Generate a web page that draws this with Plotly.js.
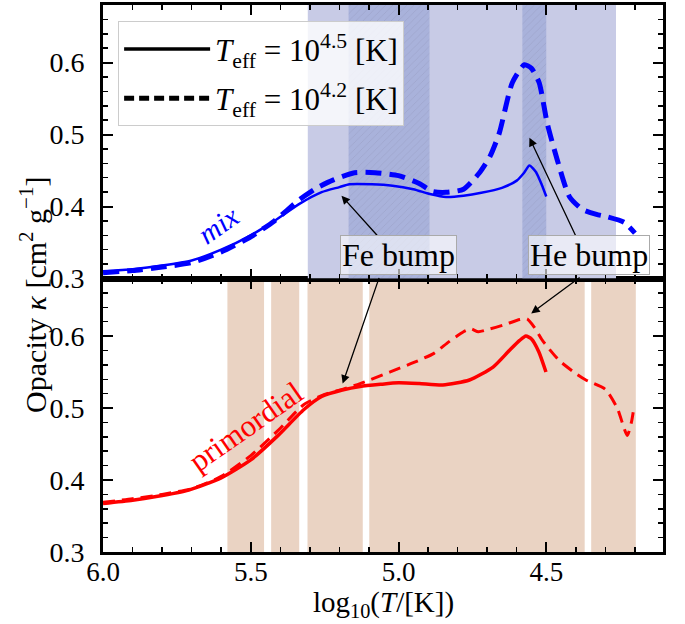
<!DOCTYPE html>
<html>
<head>
<meta charset="utf-8">
<script src="https://cdn.plot.ly/plotly-3.0.1.min.js"></script>
<style>html,body{margin:0;padding:0;background:#fff;}#chart{width:685px;height:624px;}</style>
</head>
<body>
<div id="chart"></div>
<script>
// ---- Data ----
// Top panel: "mix" composition
const mixHotX  = [6.0, 5.9, 5.8, 5.7, 5.6, 5.5, 5.42, 5.334, 5.26, 5.2, 5.166, 5.09, 5.02, 4.95, 4.89, 4.839, 4.78, 4.72, 4.65, 4.60, 4.575, 4.557, 4.535, 4.515, 4.50];
const mixHotY  = [0.310, 0.313, 0.318, 0.325, 0.340, 0.360, 0.380, 0.404, 0.420, 0.427, 0.431, 0.431, 0.429, 0.424, 0.417, 0.4133, 0.415, 0.419, 0.426, 0.436, 0.447, 0.457, 0.448, 0.430, 0.414];
const mixCoolX = [6.0, 5.9, 5.8, 5.7, 5.6, 5.5, 5.42, 5.334, 5.28, 5.22, 5.149, 5.08, 5.0, 4.93, 4.885, 4.839, 4.78, 4.726, 4.69, 4.659, 4.615, 4.574, 4.55, 4.524, 4.497, 4.463, 4.422, 4.378, 4.33, 4.297, 4.236, 4.20];
const mixCoolY = [0.308, 0.311, 0.316, 0.322, 0.337, 0.358, 0.380, 0.410, 0.425, 0.437, 0.447, 0.447, 0.443, 0.432, 0.421, 0.4197, 0.424, 0.447, 0.470, 0.502, 0.572, 0.597, 0.592, 0.572, 0.516, 0.465, 0.414, 0.396, 0.389, 0.386, 0.378, 0.363];
// Bottom panel: "primordial" composition
const primHotX  = [6.0, 5.9, 5.82, 5.71, 5.6, 5.5, 5.41, 5.32, 5.26, 5.19, 5.13, 5.06, 5.0, 4.93, 4.85, 4.76, 4.68, 4.625, 4.59, 4.569, 4.55, 4.525, 4.501];
const primHotY  = [0.3675, 0.372, 0.377, 0.386, 0.403, 0.428, 0.461, 0.498, 0.516, 0.525, 0.530, 0.533, 0.535, 0.534, 0.532, 0.539, 0.557, 0.580, 0.594, 0.600, 0.596, 0.578, 0.550];
const primCoolX = [6.0, 5.9, 5.8, 5.7, 5.6, 5.5, 5.4, 5.32, 5.25, 5.19, 5.13, 5.03, 4.95, 4.88, 4.83, 4.78, 4.755, 4.73, 4.69, 4.64, 4.59, 4.565, 4.54, 4.513, 4.456, 4.40, 4.366, 4.30, 4.26, 4.226, 4.212, 4.203];
const primCoolY = [0.369, 0.374, 0.380, 0.388, 0.405, 0.434, 0.472, 0.505, 0.519, 0.526, 0.534, 0.550, 0.563, 0.576, 0.592, 0.606, 0.610, 0.606, 0.610, 0.616, 0.623, 0.624, 0.612, 0.594, 0.566, 0.548, 0.539, 0.526, 0.500, 0.462, 0.480, 0.502];

// Shaded temperature ranges
const mixBandStart  = [5.307];
const mixBandEnd    = [4.264];
const mixDarkStart  = [5.169, 4.581];
const mixDarkEnd    = [4.895, 4.500];
const primBandStart = [5.579, 5.431, 5.308, 5.099, 4.348];
const primBandEnd   = [5.455, 5.336, 5.121, 4.370, 4.197];

// Axes
const xRange = [6.0, 4.105];
const yRange = [0.3, 0.68];
const xTickVals = [6.0, 5.5, 5.0, 4.5];
const xTickText = ['6.0', '5.5', '5.0', '4.5'];
const yTickVals = [0.3, 0.4, 0.5, 0.6];
const yTickText = ['0.3', '0.4', '0.5', '0.6'];

const legendLabels = ['<i>T</i><sub>eff</sub> = 10<sup>4.5</sup> [K]', '<i>T</i><sub>eff</sub> = 10<sup>4.2</sup> [K]'];

// ---- Build ----
const FONT = '"Liberation Serif", "Times New Roman", serif';
function bandBars(starts, ends, xa, ya, marker) {
  return {
    type: 'bar', xaxis: xa, yaxis: ya,
    x: starts.map((s, i) => (s + ends[i]) / 2),
    width: starts.map((s, i) => Math.abs(s - ends[i])),
    y: starts.map(() => yRange[1] - yRange[0]),
    base: yRange[0],
    marker: marker, showlegend: false, hoverinfo: 'skip'
  };
}

const traces = [
  bandBars(mixBandStart, mixBandEnd, 'x2', 'y2', {color: '#c8cbe6', line: {width: 0}}),
  bandBars(mixDarkStart, mixDarkEnd, 'x2', 'y2', {color: '#a9b2db', line: {width: 0},
    pattern: {shape: '/', fillmode: 'overlay', fgcolor: 'rgba(120,120,150,0.55)', size: 5, solidity: 0.12}}),
  bandBars(primBandStart, primBandEnd, 'x', 'y', {color: '#ead3c3', line: {width: 0}}),
  {x: mixHotX, y: mixHotY, xaxis: 'x2', yaxis: 'y2', mode: 'lines', line: {color: '#0000ff', width: 2.5, shape: 'spline', smoothing: 0.6}, showlegend: false},
  {x: mixCoolX, y: mixCoolY, xaxis: 'x2', yaxis: 'y2', mode: 'lines', line: {color: '#0000ff', width: 5, dash: '16px,8px', shape: 'spline', smoothing: 0.6}, showlegend: false},
  {x: primHotX, y: primHotY, xaxis: 'x', yaxis: 'y', mode: 'lines', line: {color: '#ff0000', width: 3.5, shape: 'spline', smoothing: 0.6}, showlegend: false},
  {x: primCoolX, y: primCoolY, xaxis: 'x', yaxis: 'y', mode: 'lines', line: {color: '#ff0000', width: 3, dash: '12px,7px', shape: 'spline', smoothing: 0.6}, showlegend: false},
  {x: [null], y: [null], xaxis: 'x2', yaxis: 'y2', mode: 'lines', name: legendLabels[0], legendgroup: 'a', line: {color: '#000', width: 3.5}},
  {x: [null], y: [null], xaxis: 'x2', yaxis: 'y2', mode: 'lines', name: legendLabels[1], legendgroup: 'b', line: {color: '#000', width: 5, dash: '10px,5px'}}
];

const common = {
  ticks: 'inside', ticklen: 10, tickwidth: 2, tickcolor: '#000',
  showline: true, linewidth: 3, linecolor: '#000', mirror: 'allticks',
  showgrid: false, zeroline: false, fixedrange: true,
  tickfont: {family: FONT, size: 28, color: '#000'}
};
const xCommon = Object.assign({}, common, {
  range: xRange, autorange: false, tickmode: 'array', tickvals: xTickVals, ticktext: xTickText,
  ticklabelstandoff: -6, tickfont: {family: FONT, size: 27, color: '#000'},
  minor: {ticks: 'inside', ticklen: 5, tickwidth: 1.5, tickcolor: '#000', dtick: 0.1, tick0: 6.0, showgrid: false}
});
const yCommon = Object.assign({}, common, {
  range: yRange, autorange: false, tickmode: 'array', tickvals: yTickVals, ticktext: yTickText,
  ticklabelstandoff: 10,
  minor: {ticks: 'inside', ticklen: 5, tickwidth: 1.5, tickcolor: '#000', dtick: 0.02, tick0: 0.3, showgrid: false}
});

const arrowStyle = {showarrow: true, arrowhead: 2, arrowsize: 1.3, arrowwidth: 1.3, arrowcolor: '#000', text: '', standoff: 0, startstandoff: 0};
const boxStyle = {showarrow: false, font: {family: FONT, size: 32, color: '#000'}, bgcolor: 'rgba(255,255,255,0.6)', bordercolor: '#aaaaaa', borderwidth: 1, borderpad: 1};

const layout = {
  width: 685, height: 624,
  margin: {l: 103, r: 22, t: 5, b: 72},
  paper_bgcolor: '#fff', plot_bgcolor: 'rgba(0,0,0,0)',
  font: {family: FONT, color: '#000'},
  barmode: 'overlay',
  showlegend: true,
  legend: {x: 0.027, y: 0.97, xanchor: 'left', yanchor: 'top', bgcolor: 'rgba(255,255,255,0.8)',
           bordercolor: '#cccccc', borderwidth: 1, itemwidth: 86, tracegroupgap: 6,
           font: {family: FONT, size: 31, color: '#000'}},
  xaxis: Object.assign({}, xCommon, {anchor: 'y', domain: [0, 1]}),
  xaxis2: Object.assign({}, xCommon, {anchor: 'y2', domain: [0, 1], matches: 'x', showticklabels: false}),
  yaxis: Object.assign({}, yCommon, {anchor: 'x', domain: [0, 0.5]}),
  yaxis2: Object.assign({}, yCommon, {anchor: 'x2', domain: [0.5, 1]}),
  annotations: [
    {xref: 'paper', yref: 'paper', x: 0.5, y: -0.131, xanchor: 'center', yanchor: 'bottom', showarrow: false,
     text: 'log<sub>10</sub>(<i>T</i>/[K])', font: {family: FONT, size: 29, color: '#000'}},
    {xref: 'paper', yref: 'paper', x: -0.125, y: 0.47, xanchor: 'center', yanchor: 'middle', showarrow: false, textangle: -90,
     text: 'Opacity <i>κ</i> [cm<sup>2</sup> g<sup>−1</sup>]', font: {family: FONT, size: 30, color: '#000'}},
    {xref: 'x2', yref: 'y2', x: 5.611, y: 0.375, showarrow: false, textangle: -35, text: '<i>mix</i>', font: {family: FONT, size: 29, color: '#0000ff'}},
    {xref: 'x', yref: 'y', x: 5.517, y: 0.475, showarrow: false, textangle: -35, text: 'primordial', font: {family: FONT, size: 31, color: '#ff0000'}},
    Object.assign({}, arrowStyle, {xref: 'x2', yref: 'y2', axref: 'x2', ayref: 'y2', x: 5.193, y: 0.415, ax: 5.068, ay: 0.358}),
    Object.assign({}, arrowStyle, {xref: 'x2', yref: 'y2', axref: 'x2', ayref: 'y2', x: 4.557, y: 0.4956, ax: 4.399, ay: 0.358}),
    Object.assign({}, arrowStyle, {xref: 'x', yref: 'y', axref: 'x', ayref: 'y', x: 5.189, y: 0.534, ax: 5.064, ay: 0.683}),
    Object.assign({}, arrowStyle, {xref: 'x', yref: 'y', axref: 'x', ayref: 'y', x: 4.551, y: 0.6315, ax: 4.382, ay: 0.683}),
    Object.assign({}, boxStyle, {xref: 'x2', yref: 'y2', x: 5.0, y: 0.332, text: 'Fe bump'}),
    Object.assign({}, boxStyle, {xref: 'x2', yref: 'y2', x: 4.355, y: 0.332, text: 'He bump'})
  ]
};

Plotly.newPlot('chart', traces, layout, {displayModeBar: false, staticPlot: true});
</script>
</body>
</html>
